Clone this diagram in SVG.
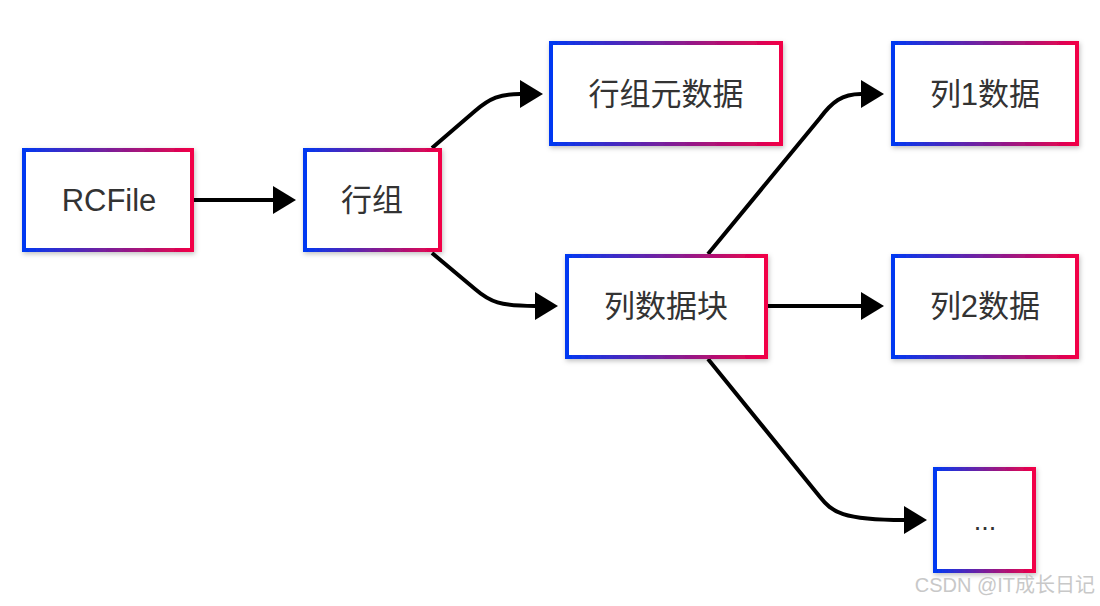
<svg xmlns="http://www.w3.org/2000/svg" width="1100" height="606" viewBox="0 0 1100 606">
<style>
.box{fill:#ffffff;stroke:url(#g);stroke-width:4;filter:url(#sh)}
.lbl{font-family:"Liberation Sans","Noto Sans CJK SC",sans-serif;font-size:31px;fill:#333333;text-anchor:middle}
.edge{fill:none;stroke:#000000;stroke-width:4;marker-end:url(#arr)}
.wm{font-family:"Liberation Sans","Noto Sans CJK SC",sans-serif;font-size:20px;fill:#c8c8c8}
</style>
<defs>
<linearGradient id="g" x1="0" y1="0" x2="1" y2="0">
<stop offset="0" stop-color="#0038f2"/>
<stop offset="0.5" stop-color="#7a1f9a"/>
<stop offset="1" stop-color="#f20046"/>
</linearGradient>
<filter id="sh" x="-20%" y="-20%" width="140%" height="140%">
<feDropShadow dx="1" dy="2" stdDeviation="2.5" flood-color="#000" flood-opacity="0.25"/>
</filter>
<marker id="arr" markerUnits="userSpaceOnUse" markerWidth="24" markerHeight="28" refX="0" refY="14" orient="auto">
<path d="M0,0 L23,14 L0,28 z" fill="#000"/>
</marker>
</defs>
<g id="connectors">
<path class="edge" d="M194,200 L273,200"/>
<path class="edge" d="M432,148 L475,111 C490,98 500,94 520,94"/>
<path class="edge" d="M432,253 L475,289 C490,302 500,306 535,306"/>
<path class="edge" d="M708,254 L820,118 C832,102 842,94 861,94"/>
<path class="edge" d="M768,306 L861,306"/>
<path class="edge" d="M708,359 L820,497 C832,512 842,520 904,520"/>
</g>
<g id="rcfile"><rect class="box" x="24" y="150" width="168" height="100"/><text class="lbl" x="109" y="211">RCFile</text></g>
<g id="rowgroup"><rect class="box" x="305" y="150" width="135" height="100"/><text class="lbl" x="372" y="211">行组</text></g>
<g id="rowmeta"><rect class="box" x="551" y="43" width="230" height="101"/><text class="lbl" x="666" y="105">行组元数据</text></g>
<g id="colblock"><rect class="box" x="567" y="256" width="199" height="101"/><text class="lbl" x="666" y="317">列数据块</text></g>
<g id="col1"><rect class="box" x="893" y="43" width="184" height="101"/><text class="lbl" x="985" y="105">列1数据</text></g>
<g id="col2"><rect class="box" x="893" y="256" width="184" height="101"/><text class="lbl" x="985" y="317">列2数据</text></g>
<g id="more"><rect class="box" x="935" y="469" width="99" height="102"/><text class="lbl" x="985" y="530" style="font-size:27px">...</text></g>
<text class="wm" x="1095" y="592" text-anchor="end">CSDN @IT成长日记</text>
</svg>
